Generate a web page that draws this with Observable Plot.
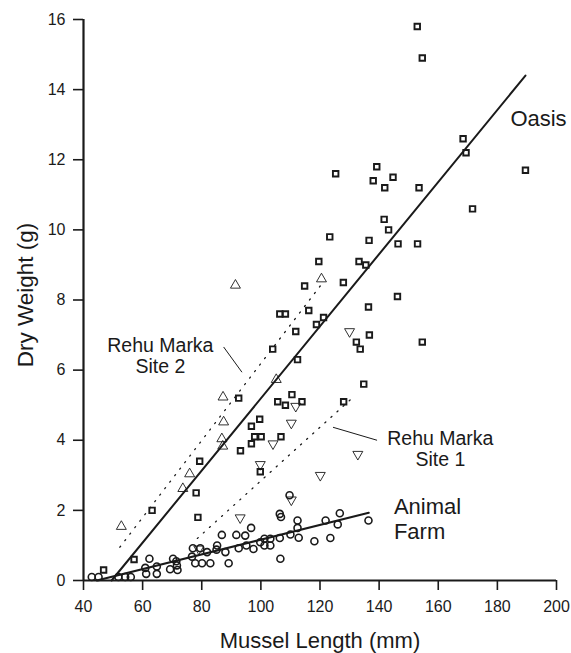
<!DOCTYPE html>
<html><head><meta charset="utf-8">
<script src="https://cdn.jsdelivr.net/npm/d3@7"></script>
<script src="https://cdn.jsdelivr.net/npm/@observablehq/plot@0.6"></script>
<style>
body{margin:0;background:#fff}
svg{font-family:"Liberation Sans",Arial,Helvetica,sans-serif}
</style>
</head><body><div id="chart"></div>
<script>
// Tick labels
const xTicks = [40, 60, 80, 100, 120, 140, 160, 180, 200];
const yTicks = [0, 2, 4, 6, 8, 10, 12, 14, 16];

// Oasis (squares): [length mm, dry weight g]
const oasis = [
  [46.8,0.3],[57.1,0.6],[63.2,2.0],[78.7,1.8],[78.1,2.5],[79.3,3.4],[92.5,5.2],[93.1,3.7],
  [96.8,4.4],[96.8,3.9],[97.9,4.1],[99.6,4.6],[100.1,4.1],[99.8,3.1],[106.8,4.1],[104.0,6.6],
  [105.7,5.1],[108.3,5.0],[110.5,5.3],[113.9,5.1],[112.4,6.3],[111.8,7.1],[106.4,7.6],[108.3,7.6],
  [114.8,8.4],[116.2,7.7],[118.8,7.3],[121.2,7.5],[119.6,9.1],[123.3,9.8],[125.3,11.6],[127.9,8.5],
  [128.0,5.1],[132.3,6.8],[133.6,6.6],[134.8,5.6],[133.2,9.1],[135.5,9.0],[136.4,7.8],[136.7,7.0],
  [136.6,9.7],[138.0,11.4],[139.2,11.8],[141.9,11.2],[144.7,11.5],[141.7,10.3],[143.2,10.0],[146.4,9.6],
  [146.2,8.1],[153.0,9.6],[153.5,11.2],[152.9,15.8],[154.6,14.9],[154.6,6.8],[168.4,12.6],[169.4,12.2],
  [171.6,10.6],[189.5,11.7]
];

// Animal Farm (circles)
const animalFarm = [
  [42.8,0.1],[45.1,0.1],[51.8,0.1],[54.1,0.1],[56.0,0.1],
  [62.3,0.62],[60.9,0.36],[64.8,0.4],[61.2,0.19],[64.8,0.19],
  [70.3,0.62],[71.4,0.55],[69.3,0.32],[71.8,0.3],[71.6,0.43],
  [77.0,0.92],[79.5,0.92],[76.7,0.68],[77.8,0.49],[80.1,0.49],[81.8,0.81],[82.9,0.49],
  [85.2,1.0],[85.0,0.88],[86.8,1.3],[88.0,0.81],[89.1,0.49],
  [92.5,0.92],[91.7,1.3],[94.7,1.28],[96.7,1.5],[95.1,1.0],[97.5,0.9],
  [99.8,1.09],[101.2,1.19],[103.2,1.19],[101.2,1.0],[103.2,1.0],
  [106.6,0.62],[106.4,1.21],[106.4,1.9],[106.8,1.81],[110.0,1.31],[112.4,1.71],[112.4,1.5],
  [112.8,1.22],[109.7,2.43],[118.1,1.12],[121.9,1.71],[126.0,1.6],[126.7,1.92],[123.5,1.21],[136.4,1.71]
];

// Rehu Marka Site 2 (up triangles)
const rehuSite2 = [
  [52.8,1.54],[73.6,2.62],[75.9,3.04],[86.8,4.04],[87.1,3.83],[87.4,4.52],[87.2,5.23],
  [91.4,8.42],[105.2,5.73],[120.5,8.6]
];

// Rehu Marka Site 1 (down triangles)
const rehuSite1 = [
  [79.0,0.9],[93.0,1.79],[99.8,3.31],[104.1,3.9],[110.3,2.3],[110.3,4.49],[111.8,4.97],
  [120.1,3.0],[130.0,7.1],[132.8,3.6]
];

// Fitted lines (end points)
const oasisFit = [[49.5,0],[189.5,14.4]];
const animalFarmFit = [[44.5,0],[136.5,1.93]];
const site2Fit = [[52.3,0.95],[121,8.5]];
const site1Fit = [[78.5,1.2],[131.5,5.25]];

// Labels and leader lines
const seriesLabels = [
  {x:184.4, y:13.18, text:"Oasis", size:22, anchor:"start"},
  {x:145.0, y:1.78, text:"Animal\nFarm", size:22, anchor:"start"},
  {x:160.7, y:3.76, text:"Rehu Marka\nSite 1", size:19.5, anchor:"middle"},
  {x:66.0, y:6.41, text:"Rehu Marka\nSite 2", size:19.5, anchor:"middle"}
];
const leaders = [
  {x1:87.4, y1:6.66, x2:93.6, y2:5.94},
  {x1:124.4, y1:4.37, x2:139.3, y2:4.0}
];

const ink = "#1a1a1a";
const X = d => d[0], Y = d => d[1];

const chart = Plot.plot({
  width: 571, height: 653,
  marginLeft: 83, marginRight: 15, marginTop: 19, marginBottom: 73,
  x: {domain: [40, 200]},
  y: {domain: [0, 16]},
  style: {fontFamily: '"Liberation Sans", Arial, sans-serif', color: ink, background: "#fff"},
  marks: [
    Plot.axisX({ticks: xTicks, tickSize: 10, tickPadding: 10, fontSize: 16, label: null, strokeWidth: 1.6, tickFormat: d => String(d)}),
    Plot.axisY({ticks: yTicks, tickSize: 10, tickPadding: 8, fontSize: 16, label: null, strokeWidth: 1.6, tickFormat: d => String(d)}),
    Plot.ruleY([0], {stroke: ink, strokeWidth: 2.2}),
    Plot.ruleX([40], {stroke: ink, strokeWidth: 2.2}),
    Plot.line(oasisFit, {x: X, y: Y, stroke: ink, strokeWidth: 2}),
    Plot.line(animalFarmFit, {x: X, y: Y, stroke: ink, strokeWidth: 2}),
    Plot.line(site2Fit, {x: X, y: Y, stroke: ink, strokeWidth: 1.3, strokeDasharray: "1.2,7"}),
    Plot.line(site1Fit, {x: X, y: Y, stroke: ink, strokeWidth: 1.3, strokeDasharray: "1.2,7"}),
    Plot.link(leaders, {x1: "x1", y1: "y1", x2: "x2", y2: "y2", stroke: ink, strokeWidth: 1}),
    Plot.dot(oasis, {x: X, y: Y, symbol: "square", r: 3.1, stroke: ink, strokeWidth: 1.9, fill: "none"}),
    Plot.dot(animalFarm, {x: X, y: Y, symbol: "circle", r: 3.5, stroke: ink, strokeWidth: 1.6, fill: "none"}),
    Plot.dot(rehuSite2, {x: X, y: Y, symbol: "triangle", r: 3.7, stroke: ink, strokeWidth: 0.9, fill: "none"}),
    Plot.dot(rehuSite1, {x: X, y: Y, symbol: "triangle", r: 3.7, rotate: 180, stroke: ink, strokeWidth: 0.9, fill: "none"}),
    Plot.text(seriesLabels.filter(d => d.anchor === "start"), {x: "x", y: "y", text: "text", fontSize: 22, textAnchor: "start", lineAnchor: "middle", lineHeight: 1.14, fill: ink}),
    Plot.text(seriesLabels.filter(d => d.anchor === "middle"), {x: "x", y: "y", text: "text", fontSize: 19.5, textAnchor: "middle", lineAnchor: "middle", lineHeight: 1.08, fill: ink}),
    Plot.text(["Mussel Length (mm)"], {frameAnchor: "bottom", dy: 60, text: d => d, fontSize: 22, textAnchor: "middle", lineAnchor: "middle", fill: ink}),
    Plot.text(["Dry Weight (g)"], {frameAnchor: "left", dx: -58, dy: -5, rotate: -90, text: d => d, fontSize: 22.5, textAnchor: "middle", lineAnchor: "middle", fill: ink})
  ]
});
document.getElementById("chart").appendChild(chart);
</script>
</body></html>
